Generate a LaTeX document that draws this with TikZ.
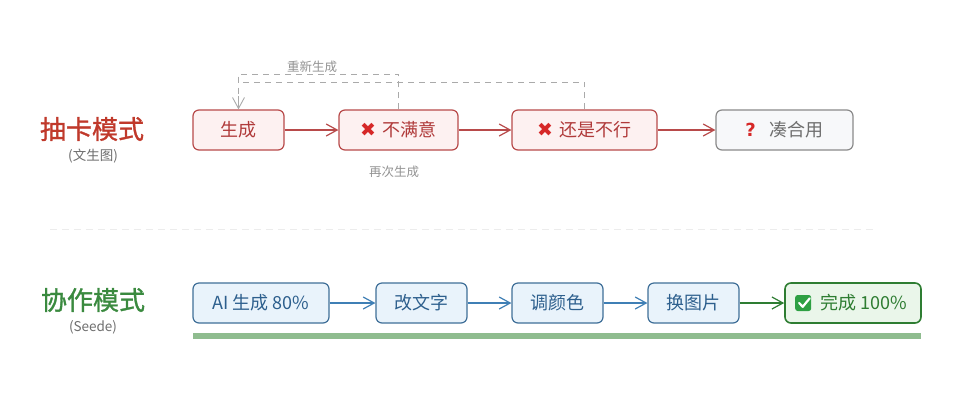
\documentclass[tikz,border=0pt]{standalone}
\usepackage{fontspec}
\setmainfont{Noto Sans CJK SC}
\newfontfamily\cjk{Noto Sans CJK SC}
\newfontfamily\cjkb[FakeBold=1.2]{Noto Sans CJK SC}
\newfontfamily\dejavu{DejaVu Sans}
\newfontfamily\latin{Liberation Sans}
\usetikzlibrary{arrows.meta}
\definecolor{rdraw}{HTML}{B84A4A}
\definecolor{rfill}{HTML}{FDF1F1}
\definecolor{rtext}{HTML}{B03A3A}
\definecolor{rtitle}{HTML}{C0392B}
\definecolor{xred}{HTML}{D62828}
\definecolor{gdraw}{HTML}{8A8A8A}
\definecolor{gfill}{HTML}{F7F8FA}
\definecolor{gtext}{HTML}{6E6E6E}
\definecolor{bdraw}{HTML}{3F6F98}
\definecolor{bfill}{HTML}{E9F3FB}
\definecolor{btext}{HTML}{2D5F8D}
\definecolor{barrow}{HTML}{3F7FB5}
\definecolor{grdraw}{HTML}{2E7D32}
\definecolor{grfill}{HTML}{EAF6EA}
\definecolor{grtext}{HTML}{2E7D32}
\definecolor{gtitle}{HTML}{3A8A3F}
\definecolor{gbar}{HTML}{8FBC8F}
\definecolor{dashc}{HTML}{AAAAAA}
\definecolor{sepc}{HTML}{ECECEC}
\definecolor{chk}{HTML}{2EA043}
\tikzset{
  box/.style={rounded corners=6pt, line width=1.2pt, minimum height=40pt, inner sep=0pt,
    font=\cjk\fontsize{18}{18}\selectfont, anchor=center},
  redbox/.style={box, draw=rdraw, fill=rfill, text=rtext},
  graybox/.style={box, draw=gdraw, fill=gfill, text=gtext},
  bluebox/.style={box, draw=bdraw, fill=bfill, text=btext},
  greenbox/.style={box, draw=grdraw, fill=grfill, text=grtext, line width=1.6pt},
  arr/.style={line width=1.2pt, -{Straight Barb[length=11pt,width=12pt,line width=1.2pt]}},
  rarr/.style={arr, draw=rdraw},
  barr/.style={arr, draw=barrow},
  garr/.style={arr, draw=grdraw},
  dashline/.style={draw=dashc, line width=0.9pt, dash pattern=on 6pt off 5pt},
  title/.style={font=\cjkb\fontsize{26}{26}\selectfont},
  subtitle/.style={font=\cjk\fontsize{13.5}{14}\selectfont, text=gtext},
  small/.style={font=\cjk\fontsize{12.5}{13}\selectfont, text=gray!85},
  xm/.style={}
}
\newcommand{\xmk}{{\dejavu\fontsize{19}{19}\selectfont\textcolor{xred}{✖}}}
\begin{document}
\begin{tikzpicture}[x=1pt,y=-1pt]
\useasboundingbox (0,0) rectangle (960,400);
\fill[white] (0,0) rectangle (960,400);
% titles
\node[title, text=rtitle] (t1) at (92,129) {抽卡模式};
\node[subtitle] (s1) at (93,156) {(文生图)};
\node[title, text=gtitle] (t2) at (93,300) {协作模式};
\node[subtitle] (s2) at (93,327) {(Seede)};
% row 1
\node[redbox, minimum width=91pt] (sc) at (238.5,130) {生成};
\node[redbox, minimum width=119pt] (nm) at (398.5,130) {\xmk\hspace{7pt}不满意};
\node[redbox, minimum width=145pt] (hb) at (584.5,130) {\xmk\hspace{7pt}还是不行};
\node[graybox, minimum width=137pt] (ch) at (784.5,130) {{\dejavu\bfseries\textcolor{xred}{?}}\hspace{14pt}凑合用};
\draw[rarr] (sc) -- (nm);
\draw[rarr] (nm) -- (hb);
\draw[rarr] (hb) -- (ch);
% feedback dashed
\coordinate (top) at (238.5,74);
\coordinate (mid) at (238.5,82);
\draw[dashline] (hb.north) -- (hb.north |- mid) -- (mid);
\draw[dashline] (nm.north) -- (nm.north |- top) -- (top) -- (sc.north);
\draw[draw=dashc, line width=0.9pt, -{Straight Barb[length=11pt,width=12pt,line width=0.9pt]}] (238.5,96) -- (sc.north);
\node[small, fill=white, inner sep=1pt] (rg) at (312,67) {重新生成};
\node[small] (zc) at (394,172) {再次生成};
% separator
\draw[draw=sepc, line width=1pt, dash pattern=on 7pt off 5pt] (50,229) -- (875,229);
% row 2
\node[bluebox, minimum width=136pt] (ai) at (261,303) {AI 生成 80\%};
\node[bluebox, minimum width=91pt] (gw) at (421.5,303) {改文字};
\node[bluebox, minimum width=91pt] (ty) at (557.5,303) {调颜色};
\node[bluebox, minimum width=91pt] (ht) at (693.5,303) {换图片};
\node[greenbox, minimum width=136pt] (wc) at (853,303) {\hspace{22pt}完成 100\%};
\fill[chk, rounded corners=2.5pt] ([xshift=11pt]wc.west |- 0,295) rectangle ++(16,16);
\draw[white, line width=2.2pt, line cap=round, line join=round]
  ([xshift=15pt]wc.west |- 0,303) -- ++(3.5,3.8) -- ++(7,-8.5);
\draw[barr] (ai) -- (gw);
\draw[barr] (gw) -- (ty);
\draw[barr] (ty) -- (ht);
\draw[garr] (ht) -- (wc);
% progress bar
\fill[gbar] (193,333) rectangle (921,339);
\end{tikzpicture}
\end{document}
